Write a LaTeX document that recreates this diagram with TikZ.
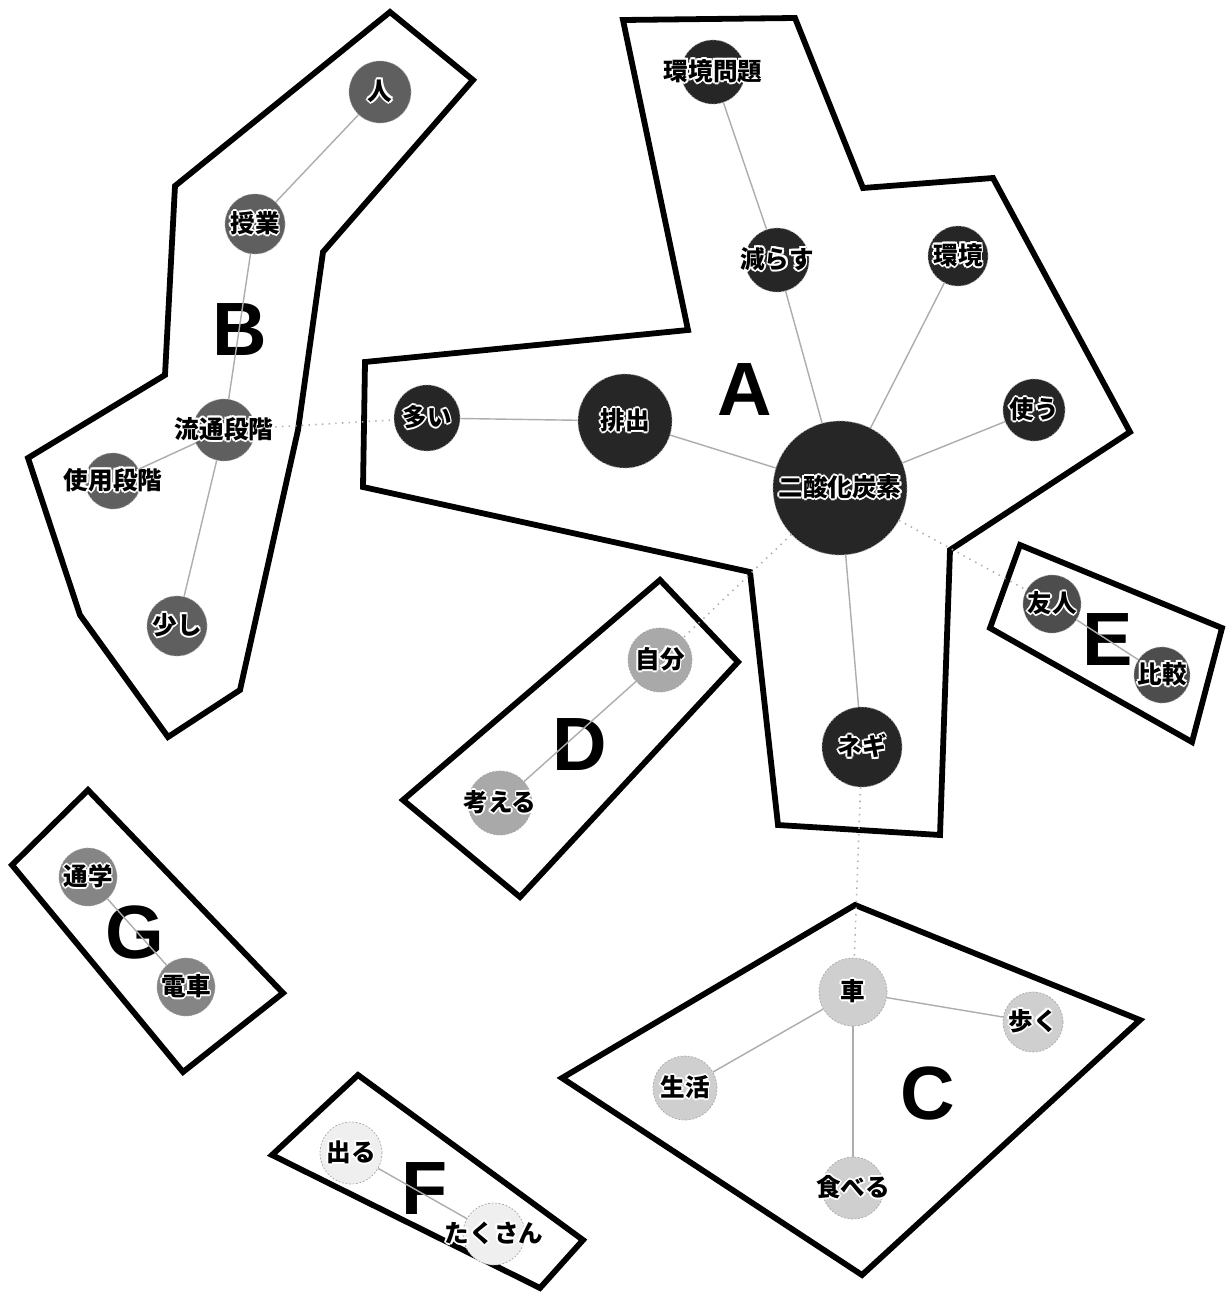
\documentclass[tikz,border=0pt]{standalone}
\usepackage{fontspec}
\newfontfamily\jpfont{Noto Sans CJK JP}
\newfontfamily\tagfont{Liberation Sans}
\usepackage{contour}
\contourlength{1.1pt}
\contournumber{8}
\usepackage{tikz}
\definecolor{GroupA}{HTML}{262626}
\definecolor{GroupB}{HTML}{5F5F5F}
\definecolor{GroupC}{HTML}{CFCFCF}
\definecolor{GroupD}{HTML}{A9A9A9}
\definecolor{GroupE}{HTML}{4D4D4D}
\definecolor{GroupF}{HTML}{EFEFEF}
\definecolor{GroupG}{HTML}{858585}
\definecolor{LinkGray}{HTML}{ADADAD}
\newcommand{\jw}[1]{{\jpfont\bfseries\fontsize{14}{16}\selectfont\contour{white}{#1}}}

\begin{document}
\begin{tikzpicture}[x=0.02cm,y=-0.02cm,
  bub/.style={circle,inner sep=0pt,fill=#1,draw=gray!70,dashed,dash pattern=on 1pt off 1pt,line width=0.4pt},
  hull/.style={draw=black,line width=3.3pt,line join=miter},
  link/.style={draw=LinkGray,line width=0.8pt},
  xlink/.style={draw=LinkGray,line width=0.9pt,dash pattern=on 0.8pt off 3pt},
  tag/.style={font=\tagfont\bfseries\fontsize{43}{50}\selectfont,inner sep=0pt}
]
  \useasboundingbox (0,0) rectangle (1226,1298);
  \fill[white] (0,0) rectangle (1226,1298);

  % cluster outlines
  \draw[hull] (623,20) -- (795,18) -- (863,188) -- (993,178) -- (1130,432) -- (950,550)
    -- (940,835) -- (778,825) -- (750,572) -- (363,487) -- (365,362) -- (688,330) -- cycle;
  \draw[hull] (175,186) -- (390,12) -- (473,80) -- (323,252) -- (298,430) -- (240,690)
    -- (168,737) -- (80,615) -- (28,458) -- (165,375) -- cycle;
  \draw[hull] (855,905) -- (1140,1020) -- (862,1275) -- (562,1078) -- cycle;
  \draw[hull] (660,580) -- (738,662) -- (520,897) -- (403,800) -- cycle;
  \draw[hull] (1020,545) -- (1222,628) -- (1192,742) -- (990,628) -- cycle;
  \draw[hull] (358,1075) -- (583,1240) -- (540,1288) -- (272,1155) -- cycle;
  \draw[hull] (88,790) -- (283,993) -- (183,1072) -- (12,865) -- cycle;

  % group A
  \node[bub=GroupA,minimum size=1.28cm,label=center:{\jw{環境問題}}] (kmondai) at (713,72) {};
  \node[bub=GroupA,minimum size=1.28cm,label=center:{\jw{減らす}}] (herasu) at (777,260) {};
  \node[bub=GroupA,minimum size=1.2cm,label=center:{\jw{環境}}] (kankyo) at (958,256) {};
  \node[bub=GroupA,minimum size=1.24cm,label=center:{\jw{使う}}] (tsukau) at (1034,410) {};
  \node[bub=GroupA,minimum size=1.32cm,label=center:{\jw{多い}}] (ooi) at (427,418) {};
  \node[bub=GroupA,minimum size=1.88cm,label=center:{\jw{排出}}] (haishutsu) at (625,421) {};
  \node[bub=GroupA,minimum size=2.68cm,label=center:{\jw{二酸化炭素}}] (co2) at (840,488) {};
  \node[bub=GroupA,minimum size=1.6cm,label=center:{\jw{ネギ}}] (negi) at (862,747) {};
  \node[tag] (tagA) at (745,390) {A};

  % group B
  \node[bub=GroupB,minimum size=1.24cm,label=center:{\jw{人}}] (hito) at (380,92) {};
  \node[bub=GroupB,minimum size=1.2cm,label=center:{\jw{授業}}] (jugyo) at (255,224) {};
  \node[bub=GroupB,minimum size=1.24cm,label=center:{\jw{流通段階}}] (ryutsu) at (224,430) {};
  \node[bub=GroupB,minimum size=1.12cm,label=center:{\jw{使用段階}}] (shiyo) at (113,481) {};
  \node[bub=GroupB,minimum size=1.2cm,label=center:{\jw{少し}}] (sukoshi) at (177,626) {};
  \node[tag] (tagB) at (240,330) {B};

  % group C
  \node[bub=GroupC,minimum size=1.36cm,label=center:{\jw{車}}] (kuruma) at (853,992) {};
  \node[bub=GroupC,minimum size=1.2cm,label=center:{\jw{歩く}}] (aruku) at (1033,1022) {};
  \node[bub=GroupC,minimum size=1.28cm,label=center:{\jw{生活}}] (seikatsu) at (685,1088) {};
  \node[bub=GroupC,minimum size=1.24cm,label=center:{\jw{食べる}}] (taberu) at (853,1188) {};
  \node[tag] (tagC) at (928,1093) {C};

  % group D
  \node[bub=GroupD,minimum size=1.28cm,label=center:{\jw{自分}}] (jibun) at (660,660) {};
  \node[bub=GroupD,minimum size=1.28cm,label=center:{\jw{考える}}] (kangaeru) at (500,803) {};
  \node[tag] (tagD) at (580,745) {D};

  % group E
  \node[bub=GroupE,minimum size=1.16cm,label=center:{\jw{友人}}] (yujin) at (1052,604) {};
  \node[bub=GroupE,minimum size=1.12cm,label=center:{\jw{比較}}] (hikaku) at (1162,675) {};
  \node[tag] (tagE) at (1108,640) {E};

  % group F
  \node[bub=GroupF,minimum size=1.24cm,label=center:{\jw{出る}}] (deru) at (351,1153) {};
  \node[bub=GroupF,minimum size=1.24cm,label=center:{\jw{たくさん}}] (takusan) at (494,1234) {};
  \node[tag] (tagF) at (425,1188) {F};

  % group G
  \node[bub=GroupG,minimum size=1.16cm,label=center:{\jw{通学}}] (tsugaku) at (88,877) {};
  \node[bub=GroupG,minimum size=1.16cm,label=center:{\jw{電車}}] (densha) at (186,987) {};
  \node[tag] (tagG) at (135,932) {G};

  % links inside groups
  \draw[link] (kmondai) -- (herasu);
  \draw[link] (herasu) -- (co2);
  \draw[link] (kankyo) -- (co2);
  \draw[link] (tsukau) -- (co2);
  \draw[link] (ooi) -- (haishutsu);
  \draw[link] (haishutsu) -- (co2);
  \draw[link] (co2) -- (negi);
  \draw[link] (hito) -- (jugyo);
  \draw[link] (jugyo) -- (ryutsu);
  \draw[link] (ryutsu) -- (shiyo);
  \draw[link] (ryutsu) -- (sukoshi);
  \draw[link] (kuruma) -- (aruku);
  \draw[link] (kuruma) -- (seikatsu);
  \draw[link] (kuruma) -- (taberu);
  \draw[link] (jibun) -- (kangaeru);
  \draw[link] (yujin) -- (hikaku);
  \draw[link] (deru) -- (takusan);
  \draw[link] (tsugaku) -- (densha);

  % links between groups
  \draw[xlink] (ryutsu) -- (ooi);
  \draw[xlink] (co2) -- (jibun);
  \draw[xlink] (co2) -- (yujin);
  \draw[xlink] (negi) -- (kuruma);
\end{tikzpicture}
\end{document}
